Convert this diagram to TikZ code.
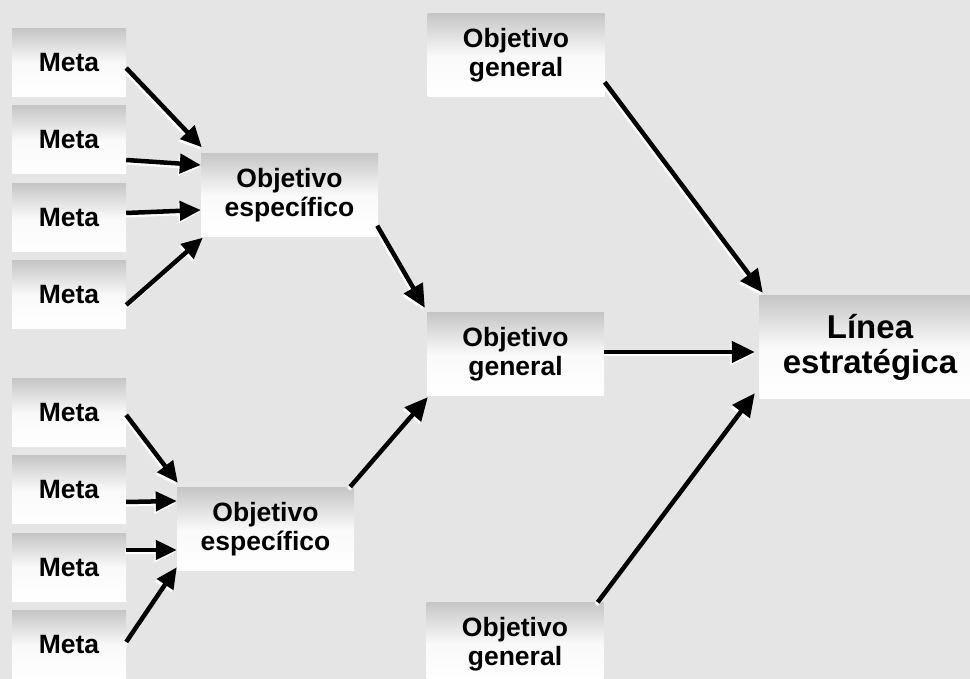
\documentclass[tikz,border=0pt]{standalone}
\usepackage{fontspec}
\setmainfont{Liberation Sans}
\usetikzlibrary{arrows.meta}
\definecolor{bg}{RGB}{229,229,229}
\definecolor{boxtop}{RGB}{198,198,198}
\begin{document}
\begin{tikzpicture}[x=1pt,y=1pt,
  box/.style={rectangle, top color=boxtop, bottom color=white, middle color=white!90!boxtop,
    inner sep=0pt, align=center, font=\bfseries\fontsize{26.5}{29}\selectfont},
  metabox/.style={box, minimum width=114pt, minimum height=68pt},
  objbox/.style={box, minimum width=177pt, minimum height=83pt},
  bigbox/.style={box, minimum width=222pt, minimum height=103pt, font=\bfseries\fontsize{33}{35}\selectfont},
  arr/.style={line width=4.5pt, -{Triangle[length=23pt,width=21pt]},
    preaction={draw=white, line width=4pt, transform canvas={shift={(-1.5pt,-2.5pt)}}}},
  arrs/.style={arr, -{Triangle[length=21pt,width=19pt]}}
]
\useasboundingbox (0,0) rectangle (970,679);
\clip (0,0) rectangle (970,679);
\fill[bg] (0,0) rectangle (970,679);

% Meta boxes
\node[metabox] (m1) at (69,616) {Meta};
\node[metabox] (m2) at (69,539) {Meta};
\node[metabox] (m3) at (69,461) {Meta};
\node[metabox] (m4) at (69,384) {Meta};
\node[metabox] (m5) at (69,266) {Meta};
\node[metabox] (m6) at (69,189) {Meta};
\node[metabox] (m7) at (69,111.5) {Meta};
\node[metabox] (m8) at (69,34) {Meta};

% Objetivos
\node[objbox] (s1) at (289.5,484) {Objetivo\\específico};
\node[objbox] (s2) at (265.5,149.5) {Objetivo\\específico};
\node[objbox] (gt) at (516,623.5) {Objetivo\\general};
\node[objbox] (gm) at (515.5,324.5) {Objetivo\\general};
\node[objbox] (gb) at (515,35) {Objetivo\\general};
\node[bigbox] (ls) at (870,331.5) {Línea\\estratégica};

% Arrows to specific 1
\draw[arrs] ([yshift=-5pt]m1.east) -- ([shift={(1pt,6pt)}]s1.north west);
\draw[arrs] ([yshift=-20pt]m2.east) -- ([yshift=30pt]s1.west);
\draw[arrs] ([yshift=5pt]m3.east) -- ([yshift=-15pt]s1.west);
\draw[arrs] ([yshift=-10pt]m4.east) -- ([shift={(2pt,-1pt)}]s1.south west);
% Arrows to specific 2
\draw[arrs] ([yshift=-2pt]m5.east) -- ([shift={(1pt,5pt)}]s2.north west);
\draw[arrs] ([yshift=-12pt]m6.east) -- ([yshift=28.5pt]s2.west);
\draw[arrs] ([yshift=17.5pt]m7.east) -- ([yshift=-20.5pt]s2.west);
\draw[arrs] ([yshift=3pt]m8.east) -- ([yshift=4pt]s2.south west);
% Specific to general
\draw[arr] ([shift={(-1pt,11pt)}]s1.south east) -- ([shift={(-2pt,5pt)}]gm.north west);
\draw[arr] ([shift={(-4pt,1pt)}]s2.north east) -- ([shift={(1pt,-1pt)}]gm.south west);
% General to linea
\draw[arr] ([yshift=2.5pt]gm.east) -- ([shift={(-4pt,-4.5pt)}]ls.west);
\draw[arr] ([yshift=15pt]gt.south east) -- ([shift={(4pt,3pt)}]ls.north west);
\draw[arr] ([xshift=-6pt]gb.north east) -- ([shift={(-4pt,6pt)}]ls.south west);
\end{tikzpicture}
\end{document}
